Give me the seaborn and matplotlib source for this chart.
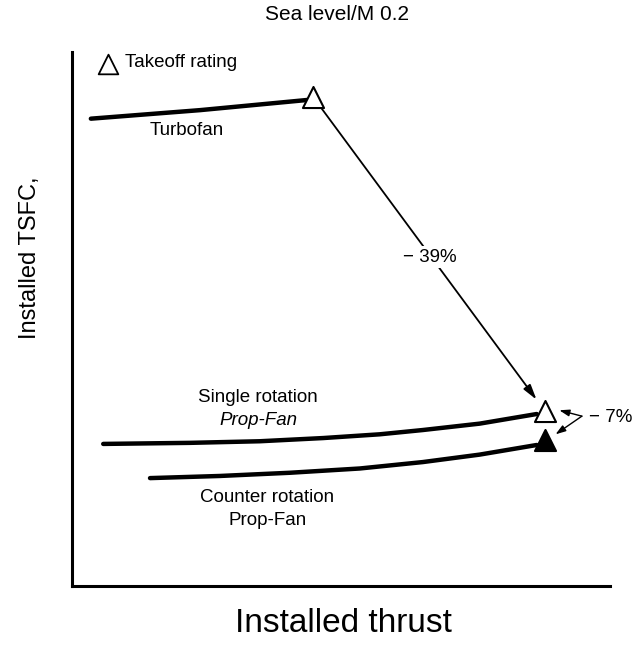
import matplotlib
matplotlib.use("Agg")
import matplotlib.pyplot as plt
import seaborn as sns
import pandas as pd
import numpy as np

# curves (arbitrary units, 0-100 on both axes)
turbofan_x = [3.5, 23.8, 43.7]
turbofan_y = [87.5, 89.1, 91.0]
single_x = [5.8, 21.9, 34.9, 46.7, 57.2, 65.2, 75.8, 86.4]
single_y = [26.6, 26.8, 27.1, 27.7, 28.4, 29.2, 30.4, 32.2]
counter_x = [14.5, 27.5, 40.5, 53.5, 65.2, 75.8, 86.4]
counter_y = [20.2, 20.6, 21.2, 22.0, 23.2, 24.6, 26.4]

# takeoff rating points
open_pts_x = [44.8, 87.9]
open_pts_y = [91.6, 32.8]
filled_pt_x = [87.9]
filled_pt_y = [27.3]

curves = pd.concat([
    pd.DataFrame({"thrust": turbofan_x, "tsfc": turbofan_y, "engine": "Turbofan"}),
    pd.DataFrame({"thrust": single_x, "tsfc": single_y, "engine": "Single"}),
    pd.DataFrame({"thrust": counter_x, "tsfc": counter_y, "engine": "Counter"}),
])

sns.set_style("white")
plt.rcParams['font.family'] = ['Liberation Sans', 'DejaVu Sans']
plt.rcParams['text.color'] = 'black'

fig = plt.figure(figsize=(6.38, 6.45), dpi=100)
ax = fig.add_axes([0.1129, 0.0915, 0.843, 0.828])

sns.lineplot(data=curves, x="thrust", y="tsfc", units="engine", estimator=None,
             color="black", lw=3.2, sort=False, ax=ax, legend=False)

ax.scatter(open_pts_x, open_pts_y, marker="^", s=230, facecolor="white",
           edgecolor="black", linewidth=1.5, zorder=5)
ax.scatter(filled_pt_x, filled_pt_y, marker="^", s=230, facecolor="black",
           edgecolor="black", linewidth=1.5, zorder=5)

ax.set_xlim(0, 100)
ax.set_ylim(0, 100)
ax.set_xticks([])
ax.set_yticks([])
ax.set_xlabel("")
ax.set_ylabel("")
sns.despine(ax=ax)
for s in ["left", "bottom"]:
    ax.spines[s].set_linewidth(2.2)
    ax.spines[s].set_color("black")

# -39% arrow between the two open triangles
ax.annotate("", xy=(open_pts_x[1], open_pts_y[1]), xytext=(open_pts_x[0], open_pts_y[0]),
            arrowprops=dict(arrowstyle="-|>,head_length=0.9,head_width=0.25", color="black",
                            lw=1.3, shrinkA=9, shrinkB=10), zorder=3)
ax.text(66.5, 61.6, "\u2212 39%", ha="center", va="center", fontsize=13.5,
        bbox=dict(facecolor="white", edgecolor="none", pad=1.5), zorder=4)

# -7% arrows
for tx, ty in [(90.6, 32.9), (89.9, 28.4)]:
    ax.annotate("", xy=(tx, ty), xytext=(94.8, 31.8),
                arrowprops=dict(arrowstyle="-|>,head_length=0.6,head_width=0.2", color="black",
                                lw=1.0, shrinkA=0, shrinkB=0))
ax.text(96.2, 31.6, "\u2212 7%", ha="left", va="center", fontsize=13.5, clip_on=False)

# labels
ax.scatter([6.6], [97.7], marker="^", s=200, facecolor="white", edgecolor="black",
           linewidth=1.3, clip_on=False, zorder=5)
ax.text(9.8, 98.0, "Takeoff rating", ha="left", va="center", fontsize=13.5)
ax.text(21.4, 85.2, "Turbofan", ha="center", va="center", fontsize=13.5)
ax.text(34.6, 35.3, "Single rotation", ha="center", va="center", fontsize=13.5)
ax.text(34.6, 31.0, "Prop-Fan", ha="center", va="center", fontsize=13.5, style="italic")
ax.text(36.3, 16.6, "Counter rotation", ha="center", va="center", fontsize=13.5)
ax.text(36.3, 12.3, "Prop-Fan", ha="center", va="center", fontsize=13.5)

fig.text(0.528, 0.977, "Sea level/M 0.2", ha="center", va="center", fontsize=15)
fig.text(0.539, 0.034, "Installed thrust", ha="center", va="center", fontsize=24)
fig.text(0.047, 0.6, "Installed TSFC,", ha="center", va="center", fontsize=17, rotation=90)

fig.savefig("out.png", dpi=100)
